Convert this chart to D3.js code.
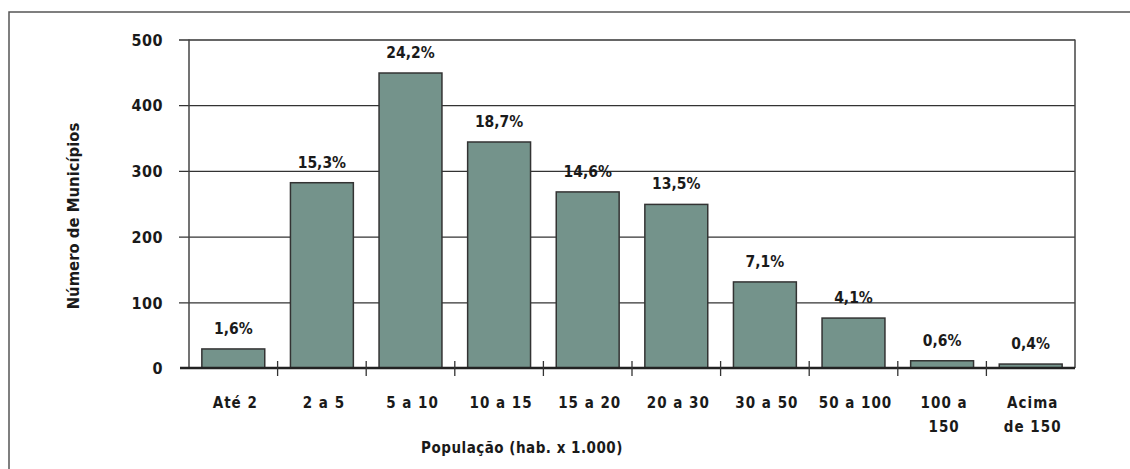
<!DOCTYPE html>
<html><head><meta charset="utf-8">
<script src="https://cdn.jsdelivr.net/npm/d3@7"></script>
<style>
html,body{margin:0;padding:0;background:#fff;}
svg{display:block;}
text{font-family:"DejaVu Sans Condensed","DejaVu Sans",sans-serif;font-weight:bold;fill:#1a1a1a;}
</style></head>
<body>
<svg id="c" width="1130" height="469"></svg>
<script>
const categories = [["Até 2"],["2 a 5"],["5 a 10"],["10 a 15"],["15 a 20"],["20 a 30"],["30 a 50"],["50 a 100"],["100 a","150"],["Acima","de 150"]];
const values = [29, 282, 449, 344, 268, 249, 131, 76, 11, 6];
const percentLabels = ["1,6%","15,3%","24,2%","18,7%","14,6%","13,5%","7,1%","4,1%","0,6%","0,4%"];
const yTicks = [0, 100, 200, 300, 400, 500];
const yTitle = "Número de Municípios";
const xTitle = "População (hab. x 1.000)";

const svg = d3.select("#c");
const L = 189, R = 1075, T = 39.5, B = 368;
const keys = categories.map(c => c.join(" "));
const x = d3.scaleBand().domain(keys).range([L, R]).paddingInner(0.29).paddingOuter(0.145);
const y = d3.scaleLinear().domain([0, 500]).range([B, T]);

// outer frame
svg.append("rect").attr("x", 9).attr("y", 12).attr("width", 1140).attr("height", 480)
  .attr("fill", "none").attr("stroke", "#555").attr("stroke-width", 1.5);

// gridlines + y ticks
const yAxis = d3.axisLeft(y).tickValues(yTicks).tickSize(-(R - L)).tickPadding(16).tickFormat(d3.format("d"));
const gy = svg.append("g").attr("transform", `translate(${L},0)`).call(yAxis);
gy.select(".domain").remove();
gy.selectAll(".tick line").attr("x1", -10).attr("stroke", "#333").attr("stroke-width", 1.3);
gy.selectAll(".tick text").attr("font-size", 16).attr("fill", "#1a1a1a")
  .style("font-family", "'DejaVu Sans Condensed','DejaVu Sans',sans-serif").style("font-weight", "bold")
  .attr("x", -26).attr("dy", "0.36em").attr("letter-spacing", 0.5);
gy.selectAll(".tick").filter(d => d === 0).select("line").remove();

// plot frame (left and right)
svg.append("line").attr("x1", L).attr("x2", L).attr("y1", T).attr("y2", B).attr("stroke", "#444").attr("stroke-width", 1.5);
svg.append("line").attr("x1", R).attr("x2", R).attr("y1", T).attr("y2", B).attr("stroke", "#444").attr("stroke-width", 1.5);

// bars
svg.append("g").selectAll("rect").data(values).join("rect")
  .attr("x", (d, i) => x(keys[i]))
  .attr("width", x.bandwidth())
  .attr("y", d => y(d))
  .attr("height", d => y(0) - y(d))
  .attr("fill", "#74938b").attr("stroke", "#333").attr("stroke-width", 1.5);

// x axis line
svg.append("line").attr("x1", L - 9).attr("x2", R).attr("y1", B).attr("y2", B).attr("stroke", "#222").attr("stroke-width", 2.5);
// category separators
const gapHalf = x.step() * x.paddingInner() / 2;
svg.append("g").selectAll("line").data(keys.slice(1)).join("line")
  .attr("x1", d => x(d) - gapHalf).attr("x2", d => x(d) - gapHalf)
  .attr("y1", B - 7).attr("y2", B + 8).attr("stroke", "#333").attr("stroke-width", 1.3);

// percent labels
svg.append("g").selectAll("text").data(values).join("text")
  .attr("x", (d, i) => x(keys[i]) + x.bandwidth() / 2)
  .attr("y", d => y(d) - 15)
  .attr("text-anchor", "middle").attr("font-size", 15.5)
  .text((d, i) => percentLabels[i]);

// category labels
const gx = svg.append("g");
categories.forEach((lines, i) => {
  const cx = x(keys[i]) + x.bandwidth() / 2 + 2;
  const t = gx.append("text").attr("text-anchor", "middle").attr("font-size", 15).attr("letter-spacing", 1)
    .attr("x", cx).attr("y", 408);
  lines.forEach((ln, j) => t.append("tspan").attr("x", cx).attr("dy", j === 0 ? 0 : 24).text(ln));
});

// axis titles
svg.append("text").attr("x", 522).attr("y", 453).attr("text-anchor", "middle").attr("font-size", 15).attr("letter-spacing", 0.5).text(xTitle);
svg.append("text").attr("transform", "translate(79,216) rotate(-90)").attr("text-anchor", "middle").attr("font-size", 16.5).text(yTitle);
</script>
</body></html>
